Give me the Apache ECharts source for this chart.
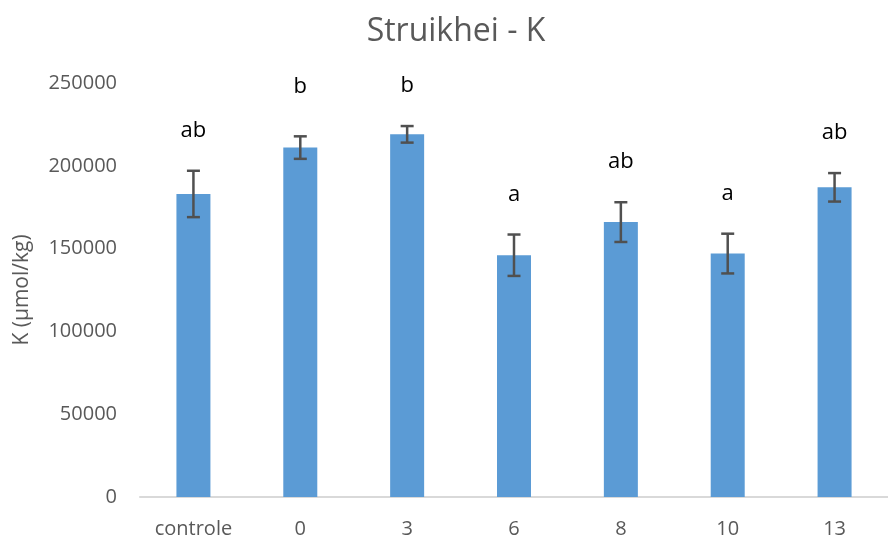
<!DOCTYPE html>
<html>
<head>
<meta charset="utf-8">
<script src="https://cdn.jsdelivr.net/npm/echarts@6/dist/echarts.min.js"></script>
<style>
  html, body { margin: 0; padding: 0; background: #fff; }
  #chart { width: 888px; height: 540px; }
</style>
</head>
<body>
<div id="chart"></div>
<script>
// Potassium content of heather (Struikhei) per treatment
const categories = ['controle', '0', '3', '6', '8', '10', '13'];
const meanK = [183000, 211000, 219000, 146000, 166000, 147000, 187000];
const errK = [14000, 6800, 5000, 12500, 12000, 12000, 8600];
const letters = ['ab', 'b', 'b', 'a', 'ab', 'a', 'ab'];
const yTicks = [0, 50000, 100000, 150000, 200000, 250000];

const FONT = '"Open Sans", "Noto Sans", sans-serif';
const GREY = '#595959';

// extra lift (px) for group letters that sit on a shared line
const letterLift = { 1: 10 };

const errData = categories.map((c, i) => [i, meanK[i] - errK[i], meanK[i] + errK[i], letters[i]]);

const chart = echarts.init(document.getElementById('chart'), null, { renderer: 'canvas' });

chart.setOption({
  animation: false,
  title: {
    text: 'Struikhei - K',
    left: 451,
    textAlign: 'center',
    top: 11,
    textStyle: { fontFamily: FONT, fontSize: 32, fontWeight: 'normal', color: GREY }
  },
  grid: { left: 140, top: 83, width: 762, height: 414 },
  xAxis: {
    type: 'category',
    data: categories,
    axisLine: { lineStyle: { color: '#D9D9D9', width: 2 } },
    axisTick: { show: false },
    axisLabel: { color: GREY, fontFamily: FONT, fontSize: 20, margin: 22 },
    splitLine: { show: false }
  },
  yAxis: {
    type: 'value',
    min: yTicks[0],
    max: yTicks[yTicks.length - 1],
    interval: yTicks[1] - yTicks[0],
    name: 'K (µmol/kg)',
    nameLocation: 'middle',
    nameGap: 107,
    nameTextStyle: { color: GREY, fontFamily: FONT, fontSize: 21 },
    axisLine: { show: false },
    axisTick: { show: false },
    splitLine: { show: false },
    axisLabel: {
      color: GREY, fontFamily: FONT, fontSize: 20, margin: 23,
      formatter: function (v) { return String(v); }
    }
  },
  series: [
    {
      type: 'bar',
      data: meanK,
      barWidth: 34,
      itemStyle: { color: '#5B9BD5' }
    },
    {
      type: 'custom',
      data: errData,
      z: 10,
      renderItem: function (params, api) {
        const i = api.value(0);
        const lo = api.coord([i, api.value(1)]);
        const hi = api.coord([i, api.value(2)]);
        const half = 6.5;
        const style = { stroke: '#505050', lineWidth: 2.5 };
        const lift = letterLift[i] || 0;
        return {
          type: 'group',
          children: [
            { type: 'line', shape: { x1: hi[0], y1: hi[1], x2: lo[0], y2: lo[1] }, style: style },
            { type: 'line', shape: { x1: hi[0] - half, y1: hi[1], x2: hi[0] + half, y2: hi[1] }, style: style },
            { type: 'line', shape: { x1: lo[0] - half, y1: lo[1], x2: lo[0] + half, y2: lo[1] }, style: style },
            {
              type: 'text',
              x: hi[0],
              y: hi[1] - 40 - lift,
              style: {
                text: letters[i],
                align: 'center',
                verticalAlign: 'middle',
                fontFamily: FONT,
                fontSize: 22,
                fill: '#000'
              }
            }
          ]
        };
      }
    }
  ]
});
</script>
</body>
</html>
